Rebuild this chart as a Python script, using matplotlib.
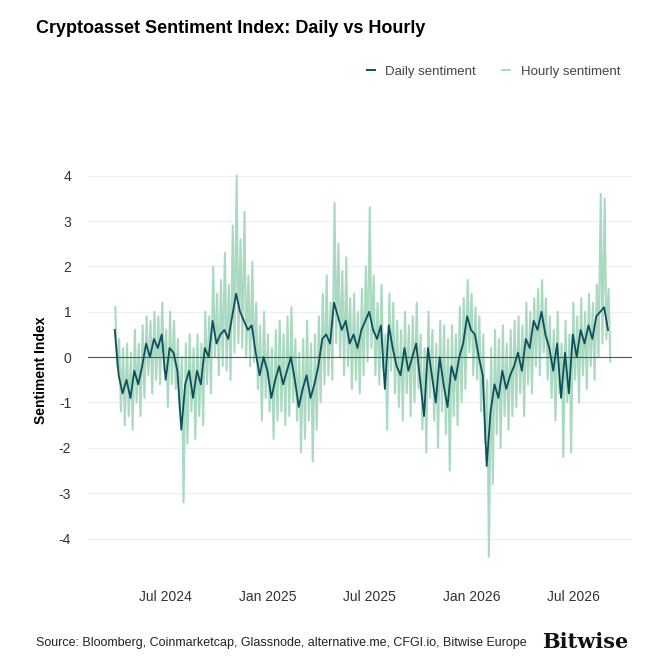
import matplotlib
matplotlib.use("Agg")
import matplotlib.pyplot as plt
import matplotlib.dates as mdates
import numpy as np
import pandas as pd

plt.rcParams['font.family'] = ['Liberation Sans', 'DejaVu Sans']
plt.rcParams['axes.unicode_minus'] = False

# weekly samples starting 2024-04-02
daily = [0.6, -0.4, -0.8, -0.5,
         -0.9, -0.3, -0.6, -0.2,
         0.3, 0.0, 0.4, 0.2, 0.5,
         -0.5, 0.2, 0.1, -0.3,
         -1.6, -0.6, -0.3, -0.9,
         -0.3, -0.6, 0.2, 0.0,
         0.8, 0.3, 0.5, 0.6, 0.4,
         0.9, 1.4, 1.0, 0.8,
         0.6, 0.7, 0.1, -0.4,
         0.0, -0.3, -0.9, -0.5, -0.2,
         -0.6, -0.3, 0.0, -0.5,
         -1.1, -0.7, -0.4, -0.9,
         -0.6, -0.2, 0.4, 0.5, 0.3,
         1.2, 0.9, 0.6, 0.8,
         0.3, 0.5, 0.2, 0.6,
         0.8, 1.0, 0.6, 0.4, 0.7,
         -0.7, 0.7, 0.2, -0.2,
         -0.4, 0.2, -0.3, 0.0,
         0.3, -0.5, -1.3, 0.2, -0.4,
         -1.0, 0.0, -0.6, -1.1,
         -0.2, -0.5, 0.0, 0.3,
         0.9, 0.6, 0.5, 0.0, -0.4,
         -2.4, -1.2, -0.6, -0.9,
         -0.3, -0.7, -0.4, -0.2,
         0.1, -0.3, 0.4, 0.2, 0.8,
         0.6, 1.0, 0.5, 0.2,
         -0.3, 0.3, -0.9, 0.1,
         -0.8, 0.5, 0.0, 0.6, 0.3,
         0.7, 0.4, 0.9, 1.0,
         1.1, 0.6]

hourly_hi = [1.1, 0.4, 0.2, 0.3,
             0.1, 0.6, 0.3, 0.7,
             0.9, 0.8, 1.0, 0.9, 1.2,
             0.6, 1.0, 0.8, 0.4,
             0.0, 0.3, 0.5, 0.2,
             0.5, 0.3, 1.0, 0.9,
             2.0, 1.4, 1.7, 2.3, 1.6,
             2.9, 4.0, 2.6, 3.2,
             1.8, 2.1, 1.2, 0.7,
             1.0, 0.5, 0.2, 0.6, 0.8,
             0.5, 0.9, 1.1, 0.4,
             0.1, 0.4, 0.8, 0.3,
             0.5, 0.9, 1.4, 1.8, 1.2,
             3.4, 2.5, 1.9, 2.2,
             1.3, 1.4, 1.0, 1.5,
             2.0, 3.3, 1.8, 1.2, 1.6,
             0.5, 1.4, 1.2, 0.8,
             0.6, 1.0, 0.7, 0.9,
             1.2, 0.5, 0.2, 1.0, 0.6,
             0.3, 0.8, 0.7, 0.4,
             0.7, 0.5, 1.1, 1.3,
             1.7, 1.4, 1.1, 0.9, 0.5,
             -0.5, 0.2, 0.6, 0.4,
             0.7, 0.3, 0.6, 0.8,
             0.9, 0.7, 1.2, 1.0, 1.3,
             1.5, 1.7, 1.3, 0.9,
             0.6, 1.0, 0.3, 0.8,
             0.5, 1.2, 0.9, 1.3, 1.0,
             1.4, 1.2, 1.6, 3.6,
             3.5, 1.5]

hourly_lo = [-0.2, -1.2, -1.5, -1.3,
             -1.6, -1.0, -1.3, -0.9,
             -0.4, -0.8, -0.5, -0.6, -0.3,
             -1.1, -0.6, -0.7, -1.2,
             -3.2, -1.9, -1.2, -1.8,
             -1.3, -1.5, -0.6, -0.8,
             0.0, -0.4, -0.2, -0.3, -0.5,
             0.1, 0.3, 0.2, 0.0,
             -0.2, -0.1, -0.7, -1.4,
             -0.9, -1.2, -1.8, -1.4, -1.2,
             -1.5, -1.3, -1.0, -1.4,
             -2.1, -1.8, -1.4, -2.3,
             -1.6, -1.0, -0.6, -0.4, -0.5,
             0.3, 0.0, -0.4, -0.2,
             -0.7, -0.5, -0.8, -0.4,
             -0.1, 0.2, -0.4, -0.6, -0.3,
             -1.6, -0.3, -0.8, -1.1,
             -1.4, -0.8, -1.3, -1.0,
             -0.7, -1.6, -2.1, -0.9, -1.4,
             -2.0, -1.2, -1.7, -2.5,
             -1.3, -1.5, -1.0, -0.7,
             0.1, -0.4, -0.5, -1.2, -1.9,
             -4.4, -2.8, -1.7, -2.0,
             -1.3, -1.6, -1.3, -1.1,
             -0.8, -1.3, -0.6, -0.8, -0.2,
             -0.4, 0.1, -0.5, -0.9,
             -1.4, -0.8, -2.2, -1.0,
             -2.1, -0.5, -1.0, -0.4, -0.7,
             -0.2, -0.5, 0.0, 0.3,
             0.4, -0.1]

start = pd.Timestamp("2024-04-02")
weeks = pd.date_range(start, periods=len(daily), freq="7D")
h_dates = []
h_vals = []
for d, hi, lo in zip(weeks, hourly_hi, hourly_lo):
    h_dates += [d + pd.Timedelta(days=1), d + pd.Timedelta(days=4)]
    h_vals += [hi, lo]

fig = plt.figure(figsize=(6.71, 6.71), dpi=100)
ax = fig.add_axes([0.131, 0.15, 0.811, 0.597])

ax.plot(h_dates, h_vals, color="#a9dac0", lw=1.5, zorder=2)
ax.plot(weeks, daily, color="#0e4f5e", lw=1.3, zorder=3)
ax.axhline(0, color="#555555", lw=0.8, zorder=2.5)

ax.set_ylim(-4.7, 4.13)
ax.set_xlim(pd.Timestamp("2024-02-14"), pd.Timestamp("2026-10-14"))
ax.set_yticks([-4, -3, -2, -1, 0, 1, 2, 3, 4])
ax.yaxis.grid(True, color="#eeeeee", lw=0.8)
ax.set_axisbelow(True)
ax.xaxis.set_major_locator(mdates.MonthLocator(bymonth=[1, 7]))
ax.xaxis.set_major_formatter(mdates.DateFormatter("%b %Y"))
for s in ax.spines.values():
    s.set_visible(False)
ax.tick_params(length=0, labelsize=10, colors="#333333", pad=12)
ax.tick_params(axis='x', pad=14)
ax.set_ylabel("Sentiment Index", fontsize=10, fontweight="bold", labelpad=8)

fig.text(0.053, 0.957, "Cryptoasset Sentiment Index: Daily vs Hourly", fontsize=13,
         fontweight="bold", va="center")
ax.legend(handles=[plt.Line2D([], [], color="#0e4f5e", lw=1.4),
                   plt.Line2D([], [], color="#a9dac0", lw=1.4)],
          labels=["Daily sentiment", "Hourly sentiment"], loc="upper right",
          bbox_to_anchor=(1.0, 1.29), ncol=2, frameon=False, fontsize=9.5,
          handlelength=0.6, columnspacing=2.0, labelcolor="#444444")
fig.text(0.053, 0.041, "Source: Bloomberg, Coinmarketcap, Glassnode, alternative.me, CFGI.io, Bitwise Europe",
         fontsize=9, color="#222222", va="center")
fig.text(0.937, 0.043, "Bitwise", fontsize=15, fontweight="bold", family="DejaVu Serif",
         ha="right", va="center", color="#111111")
fig.savefig("out.png", dpi=100)
